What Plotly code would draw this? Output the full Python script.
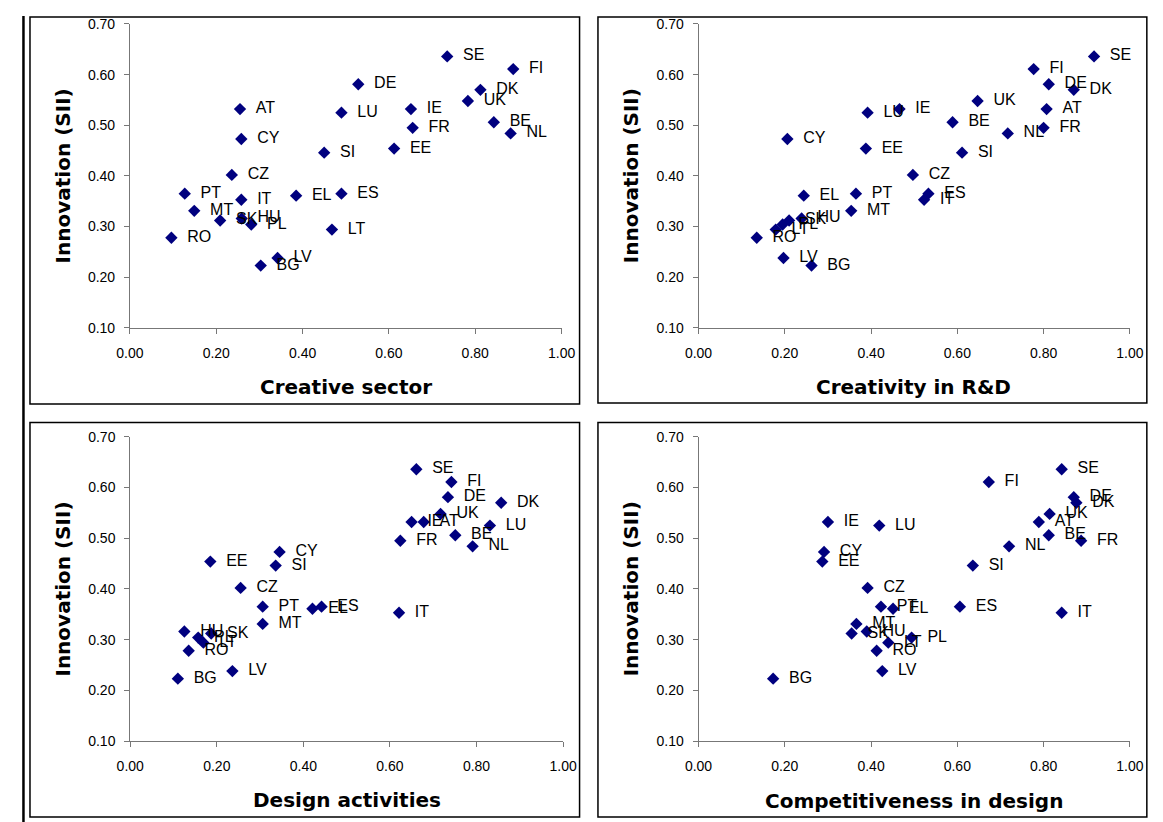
import plotly.graph_objects as go

countries = ["SE", "FI", "DE", "DK", "UK", "AT", "IE", "LU", "BE", "FR", "NL", "CY", "EE", "SI",
             "CZ", "PT", "ES", "EL", "IT", "MT", "HU", "SK", "PL", "LT", "RO", "LV", "BG"]

innovation_sii = [0.636, 0.611, 0.581, 0.570, 0.548, 0.532, 0.532, 0.525, 0.506, 0.495, 0.484, 0.473,
                  0.454, 0.446, 0.402, 0.365, 0.365, 0.361, 0.353, 0.331, 0.316, 0.312, 0.304, 0.294,
                  0.278, 0.238, 0.223]

creative_sector = [0.735, 0.888, 0.529, 0.812, 0.783, 0.255, 0.651, 0.490, 0.843, 0.655, 0.882, 0.258,
                   0.612, 0.450, 0.236, 0.127, 0.490, 0.385, 0.258, 0.149, 0.259, 0.209, 0.281, 0.468,
                   0.096, 0.342, 0.303]

creativity_rd = [0.917, 0.777, 0.812, 0.870, 0.647, 0.807, 0.466, 0.392, 0.589, 0.800, 0.717, 0.206,
                 0.388, 0.611, 0.497, 0.365, 0.533, 0.244, 0.523, 0.354, 0.239, 0.210, 0.195, 0.179,
                 0.135, 0.197, 0.262]

design_activities = [0.661, 0.742, 0.734, 0.857, 0.717, 0.678, 0.650, 0.831, 0.751, 0.624, 0.791, 0.345,
                     0.185, 0.336, 0.255, 0.306, 0.442, 0.421, 0.621, 0.306, 0.125, 0.187, 0.157, 0.169,
                     0.135, 0.236, 0.110]

competitiveness_design = [0.842, 0.673, 0.870, 0.876, 0.814, 0.789, 0.300, 0.419, 0.812, 0.887, 0.720, 0.291,
                          0.287, 0.636, 0.392, 0.423, 0.606, 0.451, 0.842, 0.366, 0.390, 0.355, 0.494, 0.440,
                          0.413, 0.426, 0.173]

x_titles = ["Creative sector", "Creativity in R&D", "Design activities", "Competitiveness in design"]
y_title = "Innovation (SII)"
x_ticks = [0.0, 0.2, 0.4, 0.6, 0.8, 1.0]
y_ticks = [0.1, 0.2, 0.3, 0.4, 0.5, 0.6, 0.7]

series = [creative_sector, creativity_rd, design_activities, competitiveness_design]

# fixed figure size (placed at the 8px body margin)
W, H = 1172, 832
# screen = A + S * page  (measured mapping of the rendered page to the picture)
AX, SX = 13.9, 0.9765
AY, SY = 8.5, 0.978
BODY = 8.0

# target picture-pixel positions (left, right, top, bottom) of plot areas
plot_px = [(129.7, 561.5, 24.3, 327.3), (698.5, 1130.0, 24.3, 327.3),
           (130.0, 563.0, 436.0, 739.3), (698.5, 1130.0, 436.0, 739.3)]
frame_px = [(29.7, 579.5, 9.3, 403.3), (597.9, 1147.0, 9.3, 402.3),
            (29.7, 579.5, 421.7, 815.0), (597.9, 1147.0, 421.7, 815.0)]
xtitle_px = [(345.6, 386.7), (914.0, 386.7), (346.5, 798.5), (914.0, 799.0)]
ytitle_px = [(63.0, 176.0), (631.0, 176.0), (63.0, 588.0), (631.0, 588.0)]

def fig_x(r):
    return min(max((r - AX) / SX - BODY, 1.0), W - 1.0)

def fig_y(r):
    return min(max((r - AY) / SY - BODY, 1.0), H - 1.0)

def px_x(r):
    return fig_x(r) / W

def px_y(r):
    return 1 - fig_y(r) / H

fig = go.Figure()
labels = ["\u00a0\u00a0" + c for c in countries]

layout = dict(
    width=W, height=H,
    margin=dict(l=0, r=0, t=0, b=0, pad=0),
    paper_bgcolor="white", plot_bgcolor="white",
    showlegend=False,
    font=dict(family="Liberation Sans, Arial, sans-serif", color="black"),
)

annotations = []
shapes = []

for i, xs in enumerate(series):
    k = "" if i == 0 else str(i + 1)
    fig.add_trace(go.Scatter(
        x=xs, y=innovation_sii, text=labels,
        mode="markers+text", textposition="middle right",
        textfont=dict(family="Liberation Sans, Arial, sans-serif", size=16, color="black"),
        marker=dict(symbol="diamond", size=9.5, color="#00007F"),
        xaxis="x" + k, yaxis="y" + k, cliponaxis=False, hoverinfo="skip",
    ))
    l, r, t, b = plot_px[i]
    layout["xaxis" + k] = dict(
        domain=[px_x(l), px_x(r)], range=[0, 1], anchor="y" + k,
        tickvals=x_ticks, ticktext=["%.2f" % v for v in x_ticks],
        showgrid=False, zeroline=False, showline=True, linecolor="#777777", linewidth=1,
        ticks="outside", ticklen=5, tickcolor="#777777",
        tickfont=dict(size=14, color="black"), ticklabelstandoff=7,
    )
    layout["yaxis" + k] = dict(
        domain=[px_y(b), px_y(t)], range=[0.1, 0.7], anchor="x" + k,
        tickvals=y_ticks, ticktext=["%.2f" % v for v in y_ticks],
        showgrid=False, zeroline=False, showline=True, linecolor="#777777", linewidth=1,
        ticks="outside", ticklen=5, tickcolor="#777777",
        tickfont=dict(size=14, color="black"), ticklabelstandoff=6,
    )
    fx0, fx1, fy0, fy1 = frame_px[i]
    shapes.append(dict(type="rect", xref="paper", yref="paper",
                       x0=px_x(fx0), x1=px_x(fx1), y0=px_y(fy1), y1=px_y(fy0),
                       line=dict(color="black", width=1.5)))
    tx, ty = xtitle_px[i]
    annotations.append(dict(text="<b>%s</b>" % x_titles[i].replace("&", "&amp;"),
                            xref="paper", yref="paper", x=px_x(tx), y=px_y(ty),
                            xanchor="center", yanchor="middle", showarrow=False,
                            font=dict(family="DejaVu Sans", size=20, color="black")))
    yx, yy = ytitle_px[i]
    annotations.append(dict(text="<b>%s</b>" % y_title,
                            xref="paper", yref="paper", x=px_x(yx), y=px_y(yy),
                            xanchor="center", yanchor="middle", showarrow=False, textangle=-90,
                            font=dict(family="DejaVu Sans", size=20, color="black")))

shapes.append(dict(type="line", xref="paper", yref="paper", x0=1.5 / W, x1=1.5 / W, y0=0, y1=1,
                   line=dict(color="black", width=2.5)))

layout["annotations"] = annotations
layout["shapes"] = shapes
fig.update_layout(**layout)
fig.write_html("out.html")
